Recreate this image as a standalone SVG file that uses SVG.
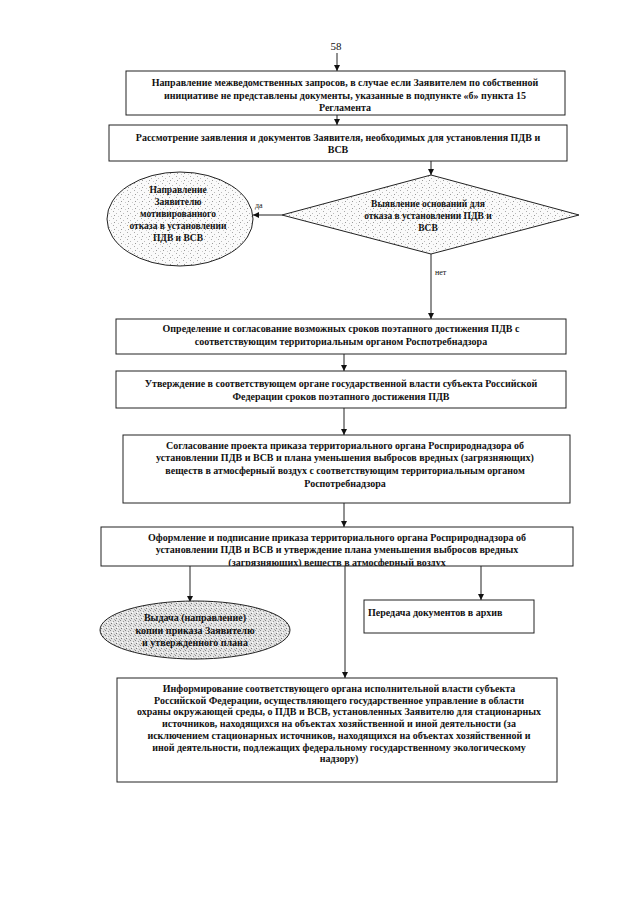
<svg xmlns="http://www.w3.org/2000/svg" width="640" height="905" viewBox="0 0 640 905">
<defs>
<style>
.t{font-family:"Liberation Serif","Times New Roman",serif;font-size:10px;font-weight:bold;fill:#111;text-anchor:middle}
.n{font-family:"Liberation Serif","Times New Roman",serif;font-size:9px;fill:#111}
.b{fill:#fff;stroke:#222;stroke-width:1}
.c{fill:none;stroke:#222;stroke-width:1}
</style>
<marker id="ah" viewBox="0 0 10 10" refX="10" refY="5" markerWidth="6" markerHeight="6" orient="auto" markerUnits="userSpaceOnUse">
<path d="M0,0 L10,5 L0,10 z" fill="#111"/>
</marker>
<pattern id="dots" width="7" height="7" patternUnits="userSpaceOnUse">
<rect width="7" height="7" fill="#fafafa"/>
<rect x="1" y="1" width="1" height="1" fill="#aaa"/>
<rect x="4" y="3" width="1" height="1" fill="#bbb"/>
<rect x="2" y="5" width="1" height="1" fill="#999"/>
<rect x="6" y="6" width="1" height="1" fill="#ccc"/>
</pattern>
<pattern id="dots2" width="5" height="5" patternUnits="userSpaceOnUse">
<rect width="5" height="5" fill="#e2e2e2"/>
<rect x="0" y="0" width="1" height="1" fill="#888"/>
<rect x="3" y="1" width="1" height="1" fill="#999"/>
<rect x="1" y="3" width="1" height="1" fill="#777"/>
<rect x="4" y="4" width="1" height="1" fill="#aaa"/>
<rect x="2" y="2" width="1" height="1" fill="#fff"/>
</pattern>
<clipPath id="clip6"><rect x="101" y="527" width="472" height="39"/></clipPath>
</defs>
<rect width="640" height="905" fill="#fff"/>
<text x="336" y="50" class="n" style="font-size:11px;text-anchor:middle">58</text>
<g id="connectors">
<line x1="337" y1="53" x2="337" y2="71" class="c" marker-end="url(#ah)"/>
<line x1="337" y1="115" x2="337" y2="125" class="c" marker-end="url(#ah)"/>
<line x1="431" y1="161" x2="431" y2="175" class="c" marker-end="url(#ah)"/>
<line x1="282" y1="215" x2="253" y2="215" class="c" marker-end="url(#ah)"/>
<text x="255" y="208" class="n" style="font-size:8px">да</text>
<line x1="431" y1="254" x2="431" y2="319" class="c" marker-end="url(#ah)"/>
<text x="435" y="275" class="n" style="font-size:8px">нет</text>
<line x1="344" y1="354" x2="344" y2="371" class="c" marker-end="url(#ah)"/>
<line x1="344" y1="408" x2="344" y2="435" class="c" marker-end="url(#ah)"/>
<line x1="344" y1="503" x2="344" y2="527" class="c" marker-end="url(#ah)"/>
<line x1="190" y1="566" x2="190" y2="602" class="c" marker-end="url(#ah)"/>
<line x1="481" y1="566" x2="481" y2="600" class="c" marker-end="url(#ah)"/>
<line x1="345" y1="566" x2="345" y2="678" class="c" marker-end="url(#ah)"/>
</g>
<g id="n1">
<rect x="126" y="71" width="439" height="44" class="b"/>
<text class="t" x="345" y="86">Направление межведомственных запросов, в случае если Заявителем по собственной</text>
<text class="t" x="345" y="99">инициативе не представлены документы, указанные в подпункте «б» пункта 15</text>
<text class="t" x="345" y="111">Регламента</text>
</g>
<g id="n2">
<rect x="109" y="125" width="458" height="36" class="b"/>
<text class="t" x="338" y="141">Рассмотрение заявления и документов Заявителя, необходимых для установления ПДВ и</text>
<text class="t" x="338" y="153">ВСВ</text>
</g>
<g id="n3">
<ellipse cx="180" cy="219" rx="73" ry="47" fill="url(#dots)" stroke="#222" stroke-width="1"/>
<text class="t" x="178" y="193" style="font-size:9.5px">Направление</text>
<text class="t" x="178" y="205" style="font-size:9.5px">Заявителю</text>
<text class="t" x="178" y="217" style="font-size:9.5px">мотивированного</text>
<text class="t" x="178" y="229" style="font-size:9.5px">отказа в установлении</text>
<text class="t" x="178" y="241" style="font-size:9.5px">ПДВ и ВСВ</text>
</g>
<g id="n4">
<polygon points="431,175 579,215 431,254 282,215" fill="url(#dots)" stroke="#222" stroke-width="1"/>
<text class="t" x="428" y="207" style="font-size:9.5px">Выявление оснований для</text>
<text class="t" x="428" y="219" style="font-size:9.5px">отказа в установлении ПДВ и</text>
<text class="t" x="428" y="231" style="font-size:9.5px">ВСВ</text>
</g>
<g id="n5">
<rect x="116" y="319" width="450" height="35" class="b"/>
<text class="t" x="341" y="332">Определение и согласование возможных сроков поэтапного достижения ПДВ с</text>
<text class="t" x="341" y="345">соответствующим территориальным органом Роспотребнадзора</text>
</g>
<g id="n6">
<rect x="116" y="371" width="450" height="37" class="b"/>
<text class="t" x="341" y="387">Утверждение в соответствующем органе государственной власти субъекта Российской</text>
<text class="t" x="341" y="400">Федерации сроков поэтапного достижения ПДВ</text>
</g>
<g id="n7">
<rect x="123" y="435" width="447" height="68" class="b"/>
<text class="t" x="345" y="449">Согласование проекта приказа территориального органа Росприроднадзора об</text>
<text class="t" x="345" y="461">установлении ПДВ и ВСВ и плана уменьшения выбросов вредных (загрязняющих)</text>
<text class="t" x="345" y="474">веществ в атмосферный воздух с соответствующим территориальным органом</text>
<text class="t" x="345" y="487">Роспотребнадзора</text>
</g>
<g id="n8">
<rect x="101" y="527" width="472" height="39" fill="#fff"/>
<text class="t" x="337" y="541">Оформление и подписание приказа территориального органа Росприроднадзора об</text>
<text class="t" x="337" y="553">установлении ПДВ и ВСВ и утверждение плана уменьшения выбросов вредных</text>
<text class="t" x="337" y="566" clip-path="url(#clip6)">(загрязняющих) веществ в атмосферный воздух</text>
<rect x="101" y="527" width="472" height="39" fill="none" stroke="#222" stroke-width="1"/>
</g>
<g id="n9">
<ellipse cx="195" cy="630" rx="95" ry="29" fill="url(#dots2)" stroke="#222" stroke-width="1"/>
<text class="t" x="195" y="621">Выдача (направление)</text>
<text class="t" x="195" y="634">копии приказа Заявителю</text>
<text class="t" x="195" y="646">и утвержденного плана</text>
</g>
<g id="n10">
<rect x="364" y="600" width="170" height="33" class="b"/>
<text class="t" x="368" y="616" style="text-anchor:start">Передача документов в архив</text>
</g>
<g id="n11">
<rect x="117" y="678" width="440" height="104" class="b"/>
<text class="t" x="339" y="692">Информирование соответствующего органа исполнительной власти субъекта</text>
<text class="t" x="339" y="703.7">Российской Федерации, осуществляющего государственное управление в области</text>
<text class="t" x="339" y="715.4">охраны окружающей среды, о ПДВ и ВСВ, установленных Заявителю для стационарных</text>
<text class="t" x="339" y="727.1">источников, находящихся на объектах хозяйственной и иной деятельности (за</text>
<text class="t" x="339" y="738.8">исключением стационарных источников, находящихся на объектах хозяйственной и</text>
<text class="t" x="339" y="750.5">иной деятельности, подлежащих федеральному государственному экологическому</text>
<text class="t" x="339" y="762.2">надзору)</text>
</g>
</svg>
